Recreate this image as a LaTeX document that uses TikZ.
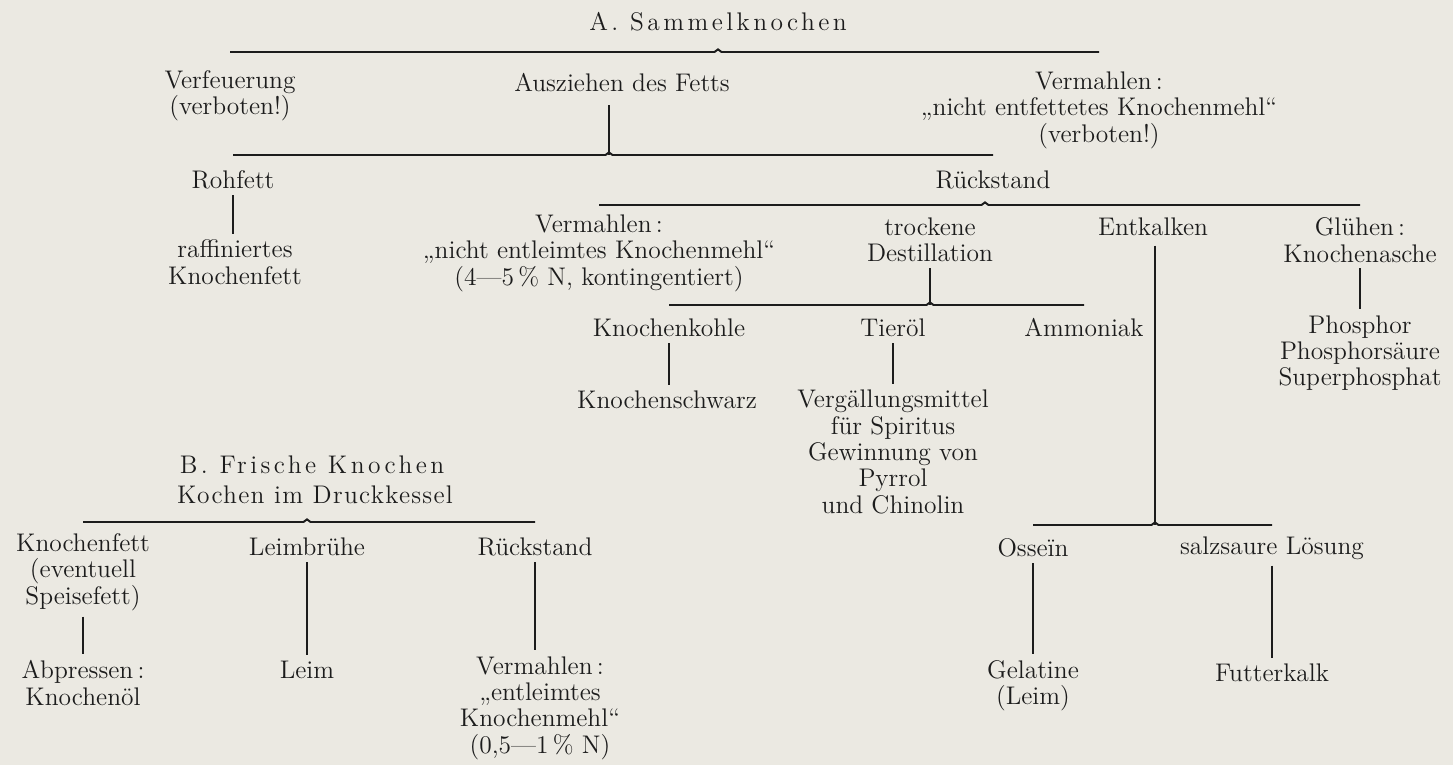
\documentclass[tikz,border=0pt]{standalone}
\usepackage{fontspec}
\newfontfamily\spacedfont[LetterSpace=13.5]{lmroman12-regular.otf}
\newfontfamily\lightspacedfont[LetterSpace=5]{lmroman12-regular.otf}
\definecolor{paper}{RGB}{235,233,226}
\definecolor{ink}{RGB}{28,28,28}

\begin{document}
\begin{tikzpicture}[x=0.02cm, y=-0.02cm,
    every node/.style={font=\fontsize{14.5}{15}\selectfont, text=ink, align=center},
    spaced/.style={font=\spacedfont\fontsize{14.5}{15}\selectfont},
    lightspaced/.style={font=\lightspacedfont\fontsize{14.5}{15}\selectfont},
    link/.style={draw=ink, line width=1.1pt},
    bar/.style={draw=ink, line width=1.1pt}]

    % Paper
    \fill[paper] (0,0) rectangle (1453,765);
    \useasboundingbox (0,0) rectangle (1453,765);

    % Draw nodes for A. Sammelknochen
    \node[spaced] (titleA) at (718,22) {A. Sammelknochen};
    \node (verf) at (230,96) {Verfeuerung\\(verboten!)};
    \node (ausz) at (622,83) {Ausziehen des Fetts};
    \node (vermA) at (1099,110) {Vermahlen\,:\\„nicht entfettetes Knochenmehl“\\(verboten!)};

    \node (rohfett) at (233,180) {Rohfett};
    \node (raff) at (235,262) {raffiniertes\\Knochenfett};
    \node (rueckA) at (993,180) {Rückstand};

    \node (vermB) at (599,253) {Vermahlen\,:\\„nicht entleimtes Knochenmehl“\\(4—5\,\% N, kontingentiert)};
    \node (trock) at (930,240) {trockene\\Destillation};
    \node (entk) at (1153,227) {Entkalken};
    \node (glueh) at (1360,240) {Glühen\,:\\Knochenasche};

    \node (kohle) at (669,328) {Knochenkohle};
    \node (tieroel) at (893,328) {Tieröl};
    \node (ammon) at (1084,328) {Ammoniak};
    \node (schwarz) at (667,400) {Knochenschwarz};
    \node (vergaell) at (893,452) {Vergällungsmittel\\für Spiritus\\Gewinnung von\\Pyrrol\\und Chinolin};
    \node (phos) at (1360,353) {Phosphor\\Phosphorsäure\\Superphosphat};

    \node (ossein) at (1033,548) {Osseïn};
    \node (loesung) at (1272,548) {salzsaure Lösung};
    \node (gelat) at (1033,686) {Gelatine\\(Leim)};
    \node (futter) at (1272,673) {Futterkalk};

    % Draw nodes for B. Frische Knochen
    \node[spaced] (titleB) at (312,465) {B. Frische Knochen};
    \node[lightspaced] (kochen) at (315,495) {Kochen im Druckkessel};
    \node (kfett) at (83,572) {Knochenfett\\(eventuell\\Speisefett)};
    \node (abpr) at (83,683) {Abpressen\,:\\Knochenöl};
    \node (leimbr) at (307,547) {Leimbrühe};
    \node (leim) at (307,670) {Leim};
    \node (rueckB) at (535,547) {Rückstand};
    \node (vermC) at (540,708) {Vermahlen\,:\\„entleimtes\\Knochenmehl“\\(0,5—1\,\% N)};

    % Junctions of the bars
    \coordinate (j1) at (718,52);
    \coordinate (j2) at (609,155);
    \coordinate (j3) at (985,205);
    \coordinate (j4) at (930,305);
    \coordinate (j5) at (1155,525);
    \coordinate (jB) at (307,522);

    % Draw the bars
    \draw[bar] (verf |- j1) -- ([xshift=-2pt]j1) -- ([yshift=1.5pt]j1) -- ([xshift=2pt]j1) -- (vermA |- j1);
    \draw[bar] (rohfett |- j2) -- ([xshift=-2pt]j2) -- ([yshift=1.5pt]j2) -- ([xshift=2pt]j2) -- (rueckA |- j2);
    \draw[bar] (vermB |- j3) -- ([xshift=-2pt]j3) -- ([yshift=1.5pt]j3) -- ([xshift=2pt]j3) -- (glueh |- j3);
    \draw[bar] (kohle |- j4) -- ([xshift=-2pt]j4) -- ([yshift=1.5pt]j4) -- ([xshift=2pt]j4) -- (ammon |- j4);
    \draw[bar] (ossein |- j5) -- ([xshift=-2pt]j5) -- ([yshift=1.5pt]j5) -- ([xshift=2pt]j5) -- (loesung |- j5);
    \draw[bar] (kfett |- jB) -- ([xshift=-2pt]jB) -- ([yshift=1.5pt]jB) -- ([xshift=2pt]jB) -- (rueckB |- jB);

    % Draw the links
    \draw[link, shorten <=4pt] (ausz.south -| j2) -- (j2);
    \draw[link] (trock.south -| j4) -- (j4);
    \draw[link, shorten <=2pt] (entk.south -| j5) -- (j5);
    \draw[link] (rohfett) -- (rohfett |- raff.north);
    \draw[link] (glueh) -- (glueh |- phos.north);
    \draw[link] (kohle) -- (kohle |- schwarz.north);
    \draw[link] (tieroel) -- (tieroel |- vergaell.north);
    \draw[link] (ossein) -- (ossein |- gelat.north);
    \draw[link] (loesung) -- (loesung |- futter.north);
    \draw[link] (kfett) -- (kfett |- abpr.north);
    \draw[link] (leimbr) -- (leimbr |- leim.north);
    \draw[link] (rueckB) -- (rueckB |- vermC.north);
\end{tikzpicture}
\end{document}
